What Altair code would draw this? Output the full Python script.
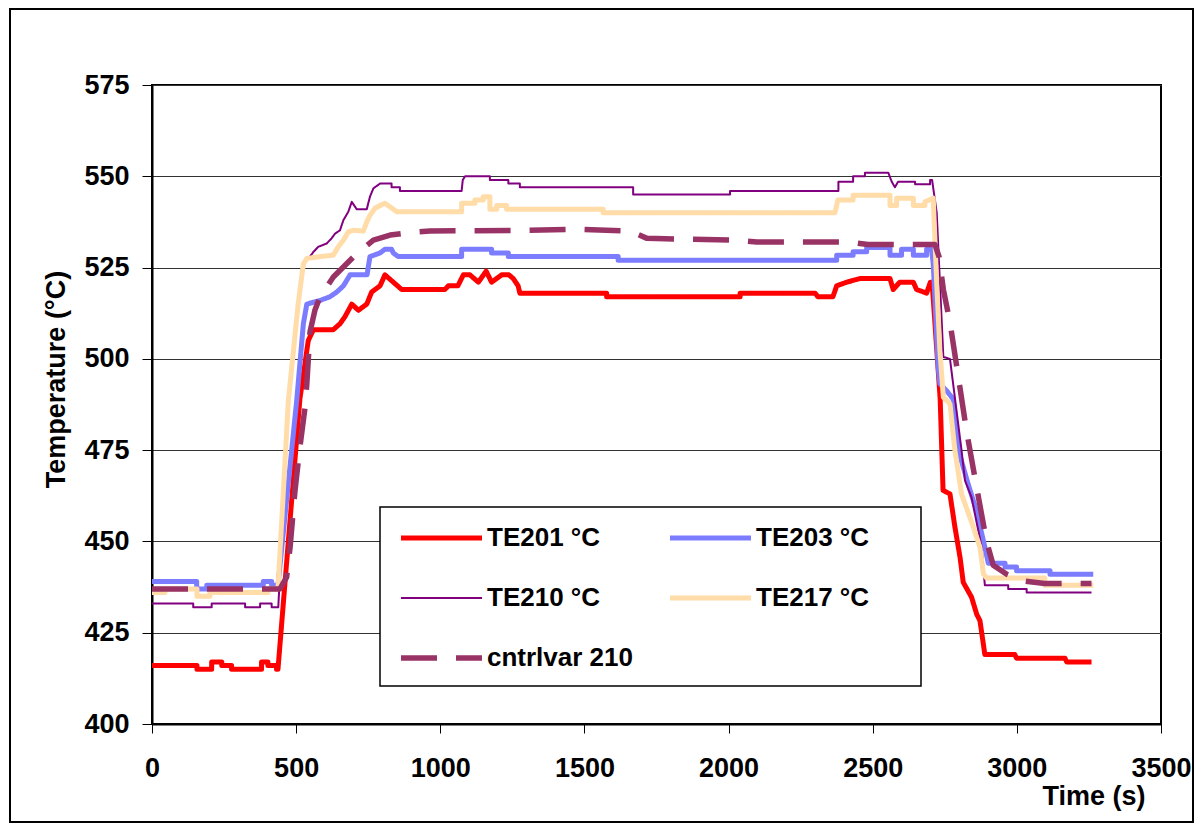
import altair as alt
import pandas as pd

series_names = ["TE201 °C", "TE203 °C", "TE210 °C", "TE217 °C", "cntrlvar 210"]
series_colors = ["#FF0000", "#7C7CFF", "#800080", "#FFDCA8", "#993366"]
series_widths = [5, 5, 2, 5, 5.5]
series_dashes = [[1, 0], [1, 0], [1, 0], [1, 0], [36, 19]]

x_ticks = [0, 500, 1000, 1500, 2000, 2500, 3000, 3500]
y_ticks = [400, 425, 450, 475, 500, 525, 550, 575]

te201 = [(0, 416), (156, 416), (156, 415), (207, 415), (207, 417), (242, 417), (242, 416),
         (276, 416), (276, 415), (380, 415), (380, 417), (402, 417), (402, 416), (432, 416),
         (432, 415), (437, 415), (513, 489), (542, 505), (560, 508), (629, 508), (652, 509.6),
         (669, 511.5), (693, 515), (716, 513.3), (745, 515), (762, 518.3), (791, 520), (808, 523),
         (837, 521), (866, 519), (1016, 519), (1028, 520), (1061, 520), (1080, 523), (1103, 523),
         (1132, 521), (1159, 524), (1178, 521), (1213, 523), (1238, 523), (1253, 522), (1270, 520),
         (1276, 518), (1577, 518), (1577, 517), (2040, 517), (2040, 518), (2300, 518), (2310, 517),
         (2362, 517), (2375, 520), (2410, 521), (2456, 522), (2560, 522), (2571, 519), (2594, 521),
         (2641, 521), (2652, 519), (2687, 518), (2700, 521), (2706, 521), (2734, 489), (2744, 464),
         (2768, 463), (2785, 454), (2803, 445.6), (2814, 438.8), (2843, 434.7), (2861, 430),
         (2872, 428.3), (2889, 419), (2993, 419), (2999, 418), (3167, 418), (3173, 417), (3259, 417)]

te203 = [(0, 439), (155, 439), (155, 437), (190, 437), (190, 438), (386, 438), (386, 439),
         (415, 439), (415, 438), (437, 438), (502, 488.6), (525, 509.6), (537, 515), (583, 516),
         (617, 517), (641, 518.3), (664, 520), (687, 523), (746, 523), (756, 528), (791, 529),
         (808, 530), (831, 530), (837, 529), (854, 528), (1074, 528), (1074, 530), (1178, 530),
         (1178, 529), (1236, 529), (1236, 528), (1617, 528), (1617, 527), (2375, 527), (2375, 528.4),
         (2432, 528.4), (2432, 529.3), (2479, 529.3), (2479, 530.5), (2560, 530.5), (2560, 528.4),
         (2600, 528.4), (2600, 530), (2641, 530), (2641, 528.4), (2687, 528.4), (2687, 530),
         (2704, 530), (2710, 526), (2727, 497.7), (2733, 493.2), (2756, 491.3), (2779, 489),
         (2797, 475), (2831, 465.7), (2860, 458.4), (2889, 448.4), (2901, 444), (2959, 444),
         (2959, 443), (2999, 443), (2999, 442), (3115, 442), (3115, 441), (3265, 441)]

te210 = [(0, 433), (143, 433), (143, 432), (207, 432), (207, 433), (323, 433), (323, 432),
         (375, 432), (375, 433), (415, 433), (415, 432), (438, 432), (440, 435), (475, 490),
         (510, 518), (531, 527), (548, 528), (560, 529.3), (577, 530.7), (606, 531.6), (623, 533),
         (635, 534.3), (652, 535.2), (664, 538), (681, 540.3), (693, 543), (710, 541), (745, 541),
         (756, 544.4), (768, 546.7), (791, 548), (831, 548), (831, 547), (860, 547), (860, 546),
         (1074, 546), (1078, 549), (1086, 550), (1172, 550), (1172, 549), (1236, 549), (1236, 548),
         (1276, 548), (1276, 547), (1669, 547), (1669, 545), (2005, 545), (2005, 546), (2381, 546),
         (2381, 548.5), (2432, 548.5), (2432, 550), (2473, 550), (2473, 551), (2554, 551),
         (2566, 548.5), (2577, 547), (2588, 548.5), (2647, 548.5), (2647, 547.8), (2699, 547.8),
         (2699, 549), (2706, 549), (2722, 540), (2745, 500.5), (2768, 500), (2808, 475),
         (2820, 466.7), (2843, 462), (2878, 448.4), (2889, 438), (2970, 438), (2970, 437),
         (3034, 437), (3034, 436), (3259, 436)]

te217 = [(0, 436), (45, 436), (45, 437), (156, 437), (156, 435), (201, 435), (201, 436),
         (402, 436), (402, 437), (437, 437), (473, 488.6), (507, 515), (525, 526), (537, 527.5),
         (583, 528), (629, 528.4), (646, 530.7), (664, 532.5), (681, 534.8), (698, 535.2),
         (733, 535), (745, 537.5), (756, 539.3), (773, 541.2), (791, 542), (808, 542.6),
         (826, 541.6), (849, 540.3), (1074, 540.3), (1074, 542.6), (1120, 542.6), (1120, 543.5),
         (1149, 543.5), (1149, 544.4), (1172, 544.4), (1172, 541), (1196, 541), (1196, 542),
         (1230, 542), (1230, 541), (1565, 541), (1565, 540), (2369, 540), (2379, 543.5),
         (2432, 543.5), (2432, 544.8), (2560, 544.8), (2560, 542), (2583, 542), (2583, 544),
         (2641, 544), (2641, 542), (2681, 542), (2681, 543), (2710, 544), (2722, 520.6),
         (2733, 502.3), (2745, 489.5), (2768, 487.7), (2785, 475), (2808, 463), (2849, 453.9),
         (2872, 448.4), (2884, 441.1), (2895, 440), (3097, 440), (3097, 438), (3265, 438)]

cntrlvar210 = [(0, 437), (444, 437), (467, 440.2), (479, 448.4), (496, 463.9), (513, 475.8),
               (531, 486.8), (537, 493.2), (548, 507.3), (565, 513.3), (583, 517), (629, 522.4),
               (710, 528.8), (768, 532.5), (826, 533.9), (883, 534.5), (964, 535), (1276, 535.2),
               (1467, 535.5), (1658, 535), (1717, 533), (2022, 532.5), (2098, 532), (2414, 532),
               (2484, 531.3), (2716, 531.3), (2730, 528), (2745, 519), (2768, 510), (2797, 495),
               (2826, 480), (2860, 465), (2895, 450), (2918, 443.5), (2965, 441), (3022, 439.2),
               (3097, 438.5), (3259, 438.5)]

rows = []
for name, pts in zip(series_names, [te201, te203, te210, te217, cntrlvar210]):
    for i, (t, v) in enumerate(pts):
        rows.append({"series": name, "time": t, "temp": v, "i": i})
df = pd.DataFrame(rows)

FONT = "Liberation Sans"

lines = alt.Chart(df).mark_line(strokeJoin="round", strokeCap="butt").encode(
    x=alt.X("time:Q",
            scale=alt.Scale(domain=[0, 3500], nice=False, zero=False),
            axis=alt.Axis(values=x_ticks, format="d", title="Time (s)", grid=False, tickSize=9,
                          labelPadding=22, labelFlush=False, titleX=993, titleY=80,
                          titleAlign="right", titleBaseline="alphabetic")),
    y=alt.Y("temp:Q",
            scale=alt.Scale(domain=[400, 575], nice=False, zero=False),
            axis=alt.Axis(values=y_ticks, format="d", title="Temperature (°C)", grid=True,
                          gridColor="#333333", gridWidth=1, tickSize=10, labelPadding=13,
                          labelFlush=False,
                          titleAngle=270, titleX=-88, titleY=294, titleAlign="center",
                          titleBaseline="alphabetic")),
    color=alt.Color("series:N", scale=alt.Scale(domain=series_names, range=series_colors),
                    legend=alt.Legend(title=None)),
    strokeWidth=alt.StrokeWidth("series:N",
                                scale=alt.Scale(type="ordinal", domain=series_names, range=series_widths),
                                legend=alt.Legend(title=None)),
    strokeDash=alt.StrokeDash("series:N",
                              scale=alt.Scale(domain=series_names, range=series_dashes),
                              legend=alt.Legend(title=None)),
    order=alt.Order("i:Q"),
)

one_row = pd.DataFrame({"k": [0]})

frame = alt.Chart(one_row).mark_rect(
    fill="white", fillOpacity=0, stroke="black", strokeWidth=2
).encode(
    x=alt.value(-142), x2=alt.value(1041), y=alt.value(-76), y2=alt.value(737)
)

legend_box = alt.Chart(one_row).mark_rect(
    fill="white", stroke="black", strokeWidth=1.5
).encode(
    x=alt.value(228), x2=alt.value(769), y=alt.value(422), y2=alt.value(601)
)

chart = alt.layer(frame, legend_box, lines).properties(
    width=1009, height=639,
    autosize=alt.AutoSizeParams(type="none"),
    padding={"left": 144, "top": 77, "right": 34, "bottom": 100},
).configure(
    font=FONT
).configure_view(
    stroke="black", strokeWidth=2
).configure_axis(
    labelFont=FONT, labelFontSize=27, labelFontWeight="bold", labelColor="black",
    titleFont=FONT, titleFontSize=27, titleFontWeight="bold", titleColor="black",
    domainColor="black", domainWidth=2, tickColor="black", tickWidth=1,
).configure_legend(
    orient="none", legendX=230, legendY=424, direction="horizontal", columns=2,
    columnPadding=34, rowPadding=34,
    gridAlign="all", padding=16,
    symbolType="stroke", symbolSize=6561, clipHeight=26,
    labelFont=FONT, labelFontSize=26, labelFontWeight="bold", labelColor="black",
    labelOffset=2, labelLimit=400, symbolOpacity=1,
)

chart.save("out.html", embed_options={"renderer": "svg", "actions": False})
